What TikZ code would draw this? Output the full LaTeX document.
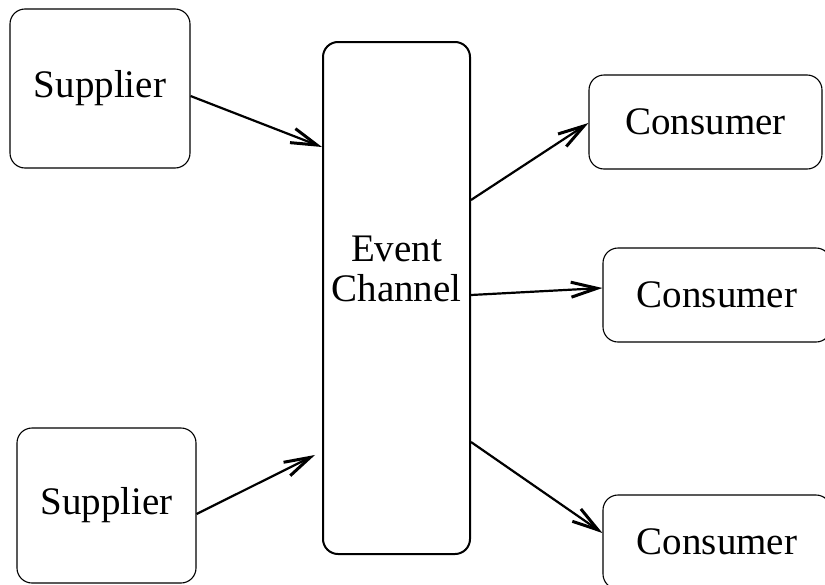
\documentclass[tikz,border=0pt]{standalone}
\usepackage{fontspec}
\setmainfont{Liberation Serif}
\usetikzlibrary{arrows.meta}
\tikzset{
  box/.style = {draw, line width = 1.1pt, rounded corners = 15pt, inner sep = 0pt, font = \fontsize{39}{40}\selectfont},
  chanbox/.style = {box, line width = 2pt},
  flow/.style = {line width = 2.2pt, -{Straight Barb[length = 26pt, width = 15pt, line width = 3pt]}},
}
\begin{document}
\begin{tikzpicture}[x = 1pt, y = -1pt]
\useasboundingbox (0, 0) rectangle (825, 584);
\node [box, minimum width = 180pt, minimum height = 159pt] (sup1) at (100, 88.5) {Supplier};
\node [box, minimum width = 179pt, minimum height = 155pt] (sup2) at (106.5, 505.5) {Supplier};
\node [chanbox, minimum width = 147pt, minimum height = 512pt] (chan) at (396.5, 298) {};
\node [font = \fontsize{39}{40}\selectfont, align = center, inner sep = 0pt] (chanlabel) at (396.5, 269) {Event\\Channel};
\node [box, minimum width = 233pt, minimum height = 94pt] (con1) at (705.5, 122) {Consumer};
\node [box, minimum width = 228pt, minimum height = 94pt] (con2) at (717, 295) {Consumer};
\node [box, minimum width = 228pt, minimum height = 94pt] (con3) at (717, 542) {Consumer};
% suppliers into the channel
\draw [flow] ([yshift = -7.5pt]sup1.east) -- ([yshift = 151pt]chan.west);
\draw [flow, shorten > = 7.8pt] ([yshift = -8.5pt]sup2.east) -- ([yshift = -153.5pt]chan.west);
% channel out to the consumers
\draw [flow] ([yshift = 98pt]chan.east) -- ([yshift = -1pt]con1.west);
\draw [flow] ([yshift = 3pt]chan.east) -- ([yshift = 7pt]con2.west);
\draw [flow] ([yshift = -144pt]chan.east) -- ([yshift = 9pt]con3.west);
\end{tikzpicture}
\end{document}
